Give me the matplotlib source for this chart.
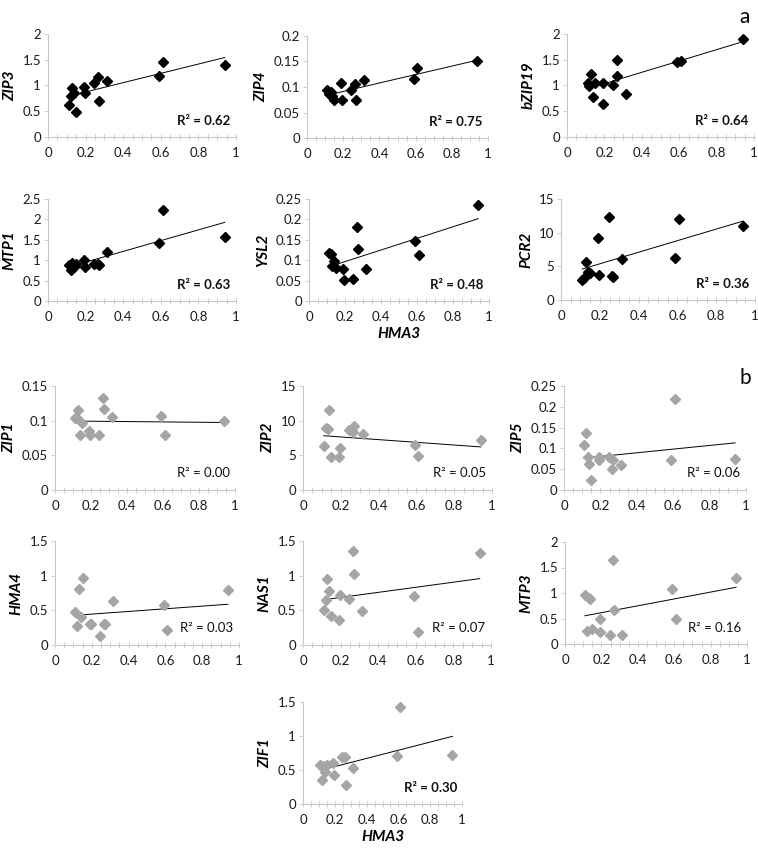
import matplotlib.pyplot as plt
import numpy as np

plt.rcParams['font.family'] = ['Lato', 'DejaVu Sans']

W, H = 758, 850

hma3 = [0.11, 0.12, 0.13, 0.14, 0.15, 0.19, 0.195, 0.245, 0.265, 0.27, 0.315, 0.59, 0.61, 0.94]

zip3 = [0.62, 0.80, 0.95, 0.86, 0.48, 0.98, 0.85, 1.04, 1.17, 0.70, 1.08, 1.19, 1.45, 1.40]
zip4 = [0.094, 0.087, 0.090, 0.083, 0.074, 0.107, 0.075, 0.094, 0.105, 0.075, 0.113, 0.115, 0.137, 0.151]
bzip19 = [1.04, 0.99, 1.22, 0.78, 1.05, 1.05, 0.64, 1.01, 1.18, 1.49, 0.83, 1.46, 1.48, 1.90]
mtp1 = [0.89, 0.77, 0.93, 0.84, 0.90, 1.00, 0.84, 0.90, 0.90, 0.88, 1.21, 1.42, 2.22, 1.57]
ysl2 = [0.117, 0.115, 0.086, 0.098, 0.082, 0.078, 0.051, 0.053, 0.181, 0.128, 0.078, 0.146, 0.113, 0.235]
pcr2 = [3.0, 3.3, 5.7, 4.2, 4.0, 9.2, 3.7, 12.4, 3.5, 3.4, 6.1, 6.3, 12.1, 11.0]

zip1 = [0.104, 0.104, 0.116, 0.080, 0.097, 0.085, 0.079, 0.079, 0.133, 0.117, 0.105, 0.107, 0.080, 0.099]
zip2 = [6.4, 9.0, 8.8, 11.6, 4.7, 4.7, 6.1, 8.6, 8.4, 9.3, 8.1, 6.5, 4.9, 7.2]
zip5 = [0.108, 0.138, 0.080, 0.062, 0.024, 0.080, 0.073, 0.080, 0.051, 0.073, 0.060, 0.071, 0.218, 0.075]
hma4 = [0.47, 0.28, 0.81, 0.40, 0.96, 0.31, 0.31, 0.13, 0.31, 0.30, 0.64, 0.58, 0.22, 0.80]
nas1 = [0.51, 0.65, 0.95, 0.78, 0.42, 0.36, 0.72, 0.66, 1.35, 1.02, 0.49, 0.71, 0.19, 1.33]
mtp3 = [0.96, 0.26, 0.91, 0.89, 0.30, 0.50, 0.24, 0.17, 1.64, 0.67, 0.18, 1.08, 0.49, 1.30]
zif1 = [0.57, 0.35, 0.56, 0.47, 0.58, 0.60, 0.43, 0.69, 0.69, 0.28, 0.53, 0.70, 1.42, 0.72]

# name, values, y max, y step, r2 text, group a?, bold r2, box (left, top, right, bottom) in px
panels = [
    ('ZIP3', zip3, 2, 0.5, '0.62', True, True, (48, 34, 236, 137)),
    ('ZIP4', zip4, 0.2, 0.05, '0.75', True, True, (307, 36, 488, 138)),
    ('bZIP19', bzip19, 2, 0.5, '0.64', True, True, (567, 34, 754, 137)),
    ('MTP1', mtp1, 2.5, 0.5, '0.63', True, True, (48, 199, 236, 301)),
    ('YSL2', ysl2, 0.25, 0.05, '0.48', True, True, (309, 199, 489, 301)),
    ('PCR2', pcr2, 15, 5, '0.36', True, True, (561, 199, 755, 300)),
    ('ZIP1', zip1, 0.15, 0.05, '0.00', False, False, (55, 386, 235, 490)),
    ('ZIP2', zip2, 15, 5, '0.05', False, False, (303, 386, 492, 490)),
    ('ZIP5', zip5, 0.25, 0.05, '0.06', False, False, (564, 386, 746, 490)),
    ('HMA4', hma4, 1.5, 0.5, '0.03', False, False, (55, 541, 239, 645)),
    ('NAS1', nas1, 1.5, 0.5, '0.07', False, False, (303, 541, 491, 645)),
    ('MTP3', mtp3, 2, 0.5, '0.16', False, False, (565, 542, 747, 644)),
    ('ZIF1', zif1, 1.5, 0.5, '0.30', False, True, (303, 702, 462, 804)),
]

fig = plt.figure(figsize=(W / 100, H / 100), dpi=100)

for name, vals, ymax, ystep, r2, grp_a, bold_r2, (l, t, r, b) in panels:
    ax = fig.add_axes([l / W, 1 - b / H, (r - l) / W, (b - t) / H])
    x = np.array(hma3)
    y = np.array(vals)
    col = 'black' if grp_a else '#a5a5a5'
    ax.plot(x, y, 'D', color=col, ms=4.6, mec=col, zorder=3)
    k, c = np.polyfit(x, y, 1)
    xs = np.array([x.min(), x.max()])
    ax.plot(xs, k * xs + c, color='black', lw=0.7, zorder=2)

    ax.set_xlim(0, 1)
    ax.set_ylim(0, ymax)
    ax.set_xticks(np.arange(0, 1.01, 0.2))
    ax.set_xticks(np.arange(0, 1.01, 0.05), minor=True)
    ax.set_xticklabels(['0', '0.2', '0.4', '0.6', '0.8', '1'])
    yt = np.arange(0, ymax + ystep / 2, ystep)
    ax.set_yticks(yt)
    ax.set_yticklabels([f'{v:g}' for v in yt])
    for s in ['top', 'right']:
        ax.spines[s].set_visible(False)
    for s in ['left', 'bottom']:
        ax.spines[s].set_color('#c8c8c8')
        ax.spines[s].set_linewidth(0.8)
    ax.tick_params(axis='x', which='both', direction='inout', length=4, width=0.6,
                   color='#c8c8c8', labelsize=9.5, labelcolor='#1a1a1a', pad=5)
    ax.tick_params(axis='y', which='both', direction='out', length=3, width=0.6,
                   color='#c8c8c8', labelsize=9.5, labelcolor='#1a1a1a', pad=2)
    ax.set_ylabel(name, fontsize=11, fontweight='bold', fontstyle='italic', labelpad=4)
    ax.text(0.97, 0.16, 'R² = ' + r2, transform=ax.transAxes, ha='right', va='center',
            fontsize=9.5, fontweight='bold' if bold_r2 else 'normal', color='#111111')
    if name in ('YSL2', 'ZIF1'):
        ax.set_xlabel('HMA3', fontsize=11, fontweight='bold', fontstyle='italic', labelpad=3)

fig.text(745 / W, 1 - 17 / H, 'a', fontsize=15, ha='center', va='center')
fig.text(745 / W, 1 - 378 / H, 'b', fontsize=15, ha='center', va='center')

fig.savefig('out.png', dpi=100)
